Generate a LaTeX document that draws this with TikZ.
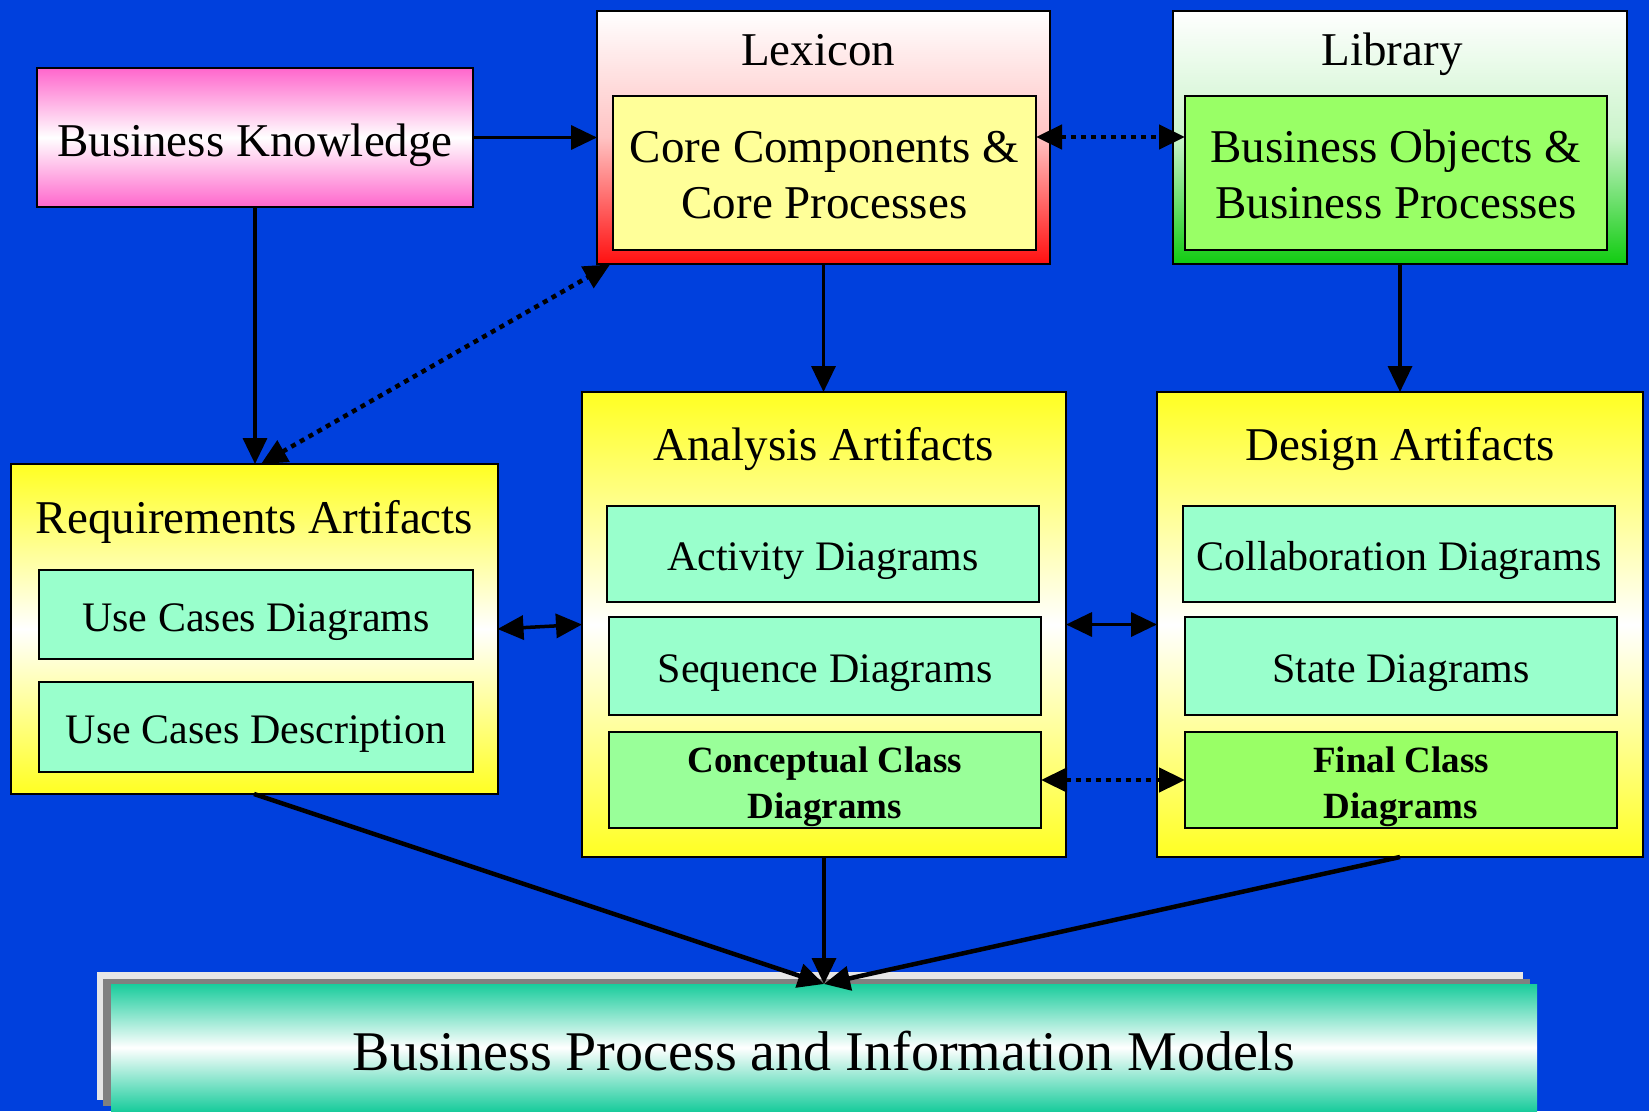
\documentclass[tikz,border=0pt]{standalone}
\usepackage{fontspec}
\setmainfont{Liberation Serif}
\usetikzlibrary{arrows.meta,calc}
\definecolor{bgblue}{HTML}{0040DD}
\definecolor{bkpink}{HTML}{FF66CC}
\definecolor{lexred}{HTML}{FF1010}
\definecolor{libgreen}{HTML}{11CC11}
\definecolor{paleyellow}{HTML}{FFFF99}
\definecolor{limegreen}{HTML}{99FF66}
\definecolor{mint}{HTML}{99FFCC}
\definecolor{lightgreen}{HTML}{99FF99}
\definecolor{artyellow}{HTML}{FFFF22}
\definecolor{teal}{HTML}{19CC9C}
\definecolor{framelight}{HTML}{E6E6E6}
\definecolor{framegray}{HTML}{808080}
\tikzset{
  box/.style={draw=black, line width=2pt, rectangle, inner sep=0pt, outer sep=0pt, align=center},
  bigtxt/.style={font=\fontsize{47}{56}\selectfont},
  midtxt/.style={font=\fontsize{42}{50}\selectfont, text height=33pt, text depth=0pt},
  boldtxt/.style={font=\fontsize{37}{46}\selectfont\bfseries, text height=76pt, text depth=0pt},
  twoline/.style={bigtxt, text height=91pt, text depth=0pt},
  title/.style={bigtxt, anchor=base},
  artifact/.style={box, top color=artyellow, bottom color=artyellow, middle color=white},
  con/.style={line width=3.5pt, -{Triangle[length=26pt,width=24pt]}},
  biconsolid/.style={line width=3.5pt, {Triangle[length=26pt,width=24pt]}-{Triangle[length=26pt,width=24pt]}},
  bicondot/.style={line width=4.5pt, dash pattern=on 5pt off 5pt, {Triangle[length=26pt,width=24pt]}-{Triangle[length=26pt,width=24pt]}},
}
\begin{document}
\begin{tikzpicture}[x=1pt,y=-1pt]
\useasboundingbox (0,0) rectangle (1649,1111);
\fill[bgblue] (0,0) rectangle (1649,1111);

% Business knowledge
\node[box, bigtxt, text height=38pt, text depth=0pt, minimum width=436pt, minimum height=139pt, top color=bkpink, bottom color=bkpink, middle color=white] (bk) at (255,137.5) {Business Knowledge};

% Lexicon
\node[box, minimum width=453pt, minimum height=253pt, top color=white, bottom color=lexred, middle color=lexred!25] (lexout) at (823.5,137) {};
\node[title] (lextitle) at (818,65) {Lexicon};
\node[box, twoline, fill=paleyellow, minimum width=423pt, minimum height=154pt] (lexin) at (824.5,173) {Core Components \&\\Core Processes};

% Library
\node[box, minimum width=454pt, minimum height=253pt, top color=white, bottom color=libgreen, middle color=libgreen!22] (libout) at (1400,137) {};
\node[title] (libtitle) at (1392,65) {Library};
\node[box, twoline, fill=limegreen, minimum width=422pt, minimum height=154pt] (libin) at (1396,173) {Business Objects \&\\Business Processes};

% Requirements
\node[artifact, minimum width=487pt, minimum height=330pt] (req) at (254,629) {};
\node[title] (reqtitle) at (254.5,533) {Requirements Artifacts};
\node[box, midtxt, fill=mint, minimum width=434pt, minimum height=89pt] (ucd) at (256,614.5) {Use Cases Diagrams};
\node[box, midtxt, fill=mint, minimum width=434pt, minimum height=90pt] (ucdesc) at (256,727) {Use Cases Description};

% Analysis
\node[artifact, minimum width=484pt, minimum height=465pt] (ana) at (824,624.5) {};
\node[title] (anatitle) at (823.5,460.5) {Analysis Artifacts};
\node[box, midtxt, fill=mint, minimum width=432pt, minimum height=96pt] (act) at (823,554) {Activity Diagrams};
\node[box, midtxt, fill=mint, minimum width=432pt, minimum height=98pt] (seq) at (825,666) {Sequence Diagrams};
\node[box, boldtxt, fill=lightgreen, minimum width=432pt, minimum height=96pt] (concept) at (825,780) {Conceptual Class\\Diagrams};

% Design
\node[artifact, minimum width=486pt, minimum height=465pt] (des) at (1400,624.5) {};
\node[title] (destitle) at (1400,460.5) {Design Artifacts};
\node[box, midtxt, fill=mint, minimum width=432pt, minimum height=96pt] (collab) at (1399,554) {Collaboration Diagrams};
\node[box, midtxt, fill=mint, minimum width=432pt, minimum height=98pt] (state) at (1401,666) {State Diagrams};
\node[box, boldtxt, fill=limegreen, minimum width=432pt, minimum height=96pt] (final) at (1401,780) {Final Class\\Diagrams};

% Bottom box with frames
\fill[framelight] (97,972) rectangle (1523,1100);
\fill[framegray] (103,979) rectangle (1530,1106);
\node[rectangle, inner sep=0pt, outer sep=0pt, minimum width=1426pt, minimum height=127pt, top color=teal, bottom color=teal, middle color=white, font=\fontsize{56}{64}\selectfont, text height=45pt, text depth=0pt] (bpim) at (824,1047.5) {Business Process and Information Models};

% Connectors
\draw[con] (bk.east) -- (lexout.west |- bk.east);
\draw[bicondot] (lexout.center -| lexin.east) -- (lexout.center -| libin.west);
\draw[con] (bk.south) -- (bk.south |- req.north);
\draw[bicondot] ($(req.north)+(7,0)$) -- ($(lexout.south west)+(13,1)$);
\draw[con] (lexout.south) -- (lexout.south |- ana.north);
\draw[con] (libout.south) -- (libout.south |- des.north);
\draw[biconsolid] (req.east) -- (ana.west);
\draw[biconsolid] (ana.east) -- (des.west);
\draw[bicondot] (concept.east) -- (final.west);
\draw[con, line width=4.5pt] (req.south) -- (bpim.north);
\draw[con] (ana.south) -- (bpim.north);
\draw[con, line width=4.5pt] (des.south) -- (bpim.north);
\end{tikzpicture}
\end{document}
